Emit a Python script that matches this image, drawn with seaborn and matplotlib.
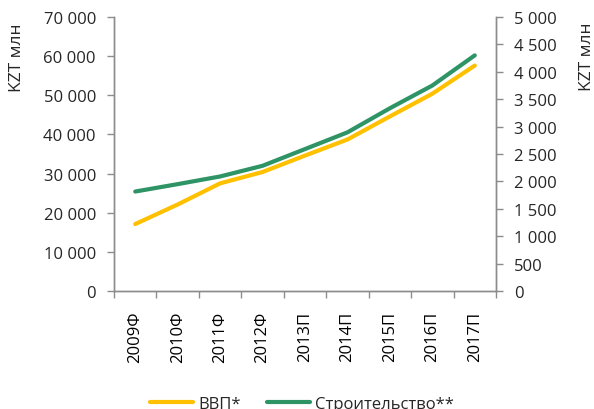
import matplotlib
matplotlib.use("Agg")
import matplotlib.pyplot as plt
import matplotlib.ticker as mticker
import seaborn as sns
import pandas as pd

categories = ["2009Ф", "2010Ф", "2011Ф", "2012Ф", "2013П", "2014П", "2015П", "2016П", "2017П"]
gdp = [17100, 22100, 27500, 30400, 34600, 38700, 44600, 50400, 57600]
construction = [1815, 1950, 2090, 2285, 2590, 2895, 3335, 3750, 4300]
left_ticks = [0, 10000, 20000, 30000, 40000, 50000, 60000, 70000]
right_ticks = [0, 500, 1000, 1500, 2000, 2500, 3000, 3500, 4000, 4500, 5000]
ylabel = "KZT млн"
names = ["ВВП*", "Строительство**"]

sns.set_theme(style="white")
plt.rcParams['font.family'] = ['Open Sans', 'DejaVu Sans']

df = pd.DataFrame({"x": list(range(len(categories))), "gdp": gdp, "con": construction})

fig = plt.figure(figsize=(5.94, 4.10), dpi=100)
ax = fig.add_axes([114/594, 1-292/410, (496-114)/594, (292-18)/410])
ax2 = ax.twinx()

yellow = "#FFC000"
green = "#2E9465"
sns.lineplot(data=df, x="x", y="gdp", ax=ax, color=yellow, linewidth=3.0, label=names[0], legend=False)
sns.lineplot(data=df, x="x", y="con", ax=ax2, color=green, linewidth=3.0, label=names[1], legend=False)

gray = "#8C8C8C"
ax.set_xlim(-0.5, len(categories) - 0.5)
ax.set_ylim(0, 70000)
ax2.set_ylim(0, 5000)

def fmt(v, p):
    return f"{int(v):,}".replace(",", " ")

ax.set_yticks(left_ticks)
ax2.set_yticks(right_ticks)
ax.yaxis.set_major_formatter(mticker.FuncFormatter(fmt))
ax2.yaxis.set_major_formatter(mticker.FuncFormatter(fmt))

ax.set_xticks(range(len(categories)))
ax.set_xticklabels(categories, rotation=90)
ax.set_xticks([i - 0.5 for i in range(len(categories) + 1)], minor=True)
ax.tick_params(axis="x", which="major", length=0, pad=14, labelsize=12, colors="black")
ax.tick_params(axis="x", which="minor", length=5, width=1, color=gray, bottom=True)
ax.tick_params(axis="y", which="major", length=5, width=1, color=gray, left=True, labelsize=12, pad=8)
ax2.tick_params(axis="y", which="major", length=5, width=1, color=gray, right=True, labelsize=12, pad=8)

for a in (ax, ax2):
    a.grid(False)
    a.spines["top"].set_visible(False)
    for s in ("left", "right", "bottom"):
        a.spines[s].set_color(gray)
        a.spines[s].set_linewidth(1)
    a.set_xlabel("")
    a.set_ylabel("")

fig.text(17/594, 1-58/410, ylabel, rotation=90, ha="center", va="center", fontsize=12.5)
fig.text(587/594, 1-57/410, ylabel, rotation=90, ha="center", va="center", fontsize=12.5)

h1, l1 = ax.get_legend_handles_labels()
h2, l2 = ax2.get_legend_handles_labels()
fig.legend(h1 + h2, l1 + l2, loc="center", bbox_to_anchor=(302/594, 1-405/410), ncol=2,
           frameon=False, fontsize=12, handlelength=2.6, columnspacing=1.6, handletextpad=0.3)

fig.savefig("out.png", dpi=100)
